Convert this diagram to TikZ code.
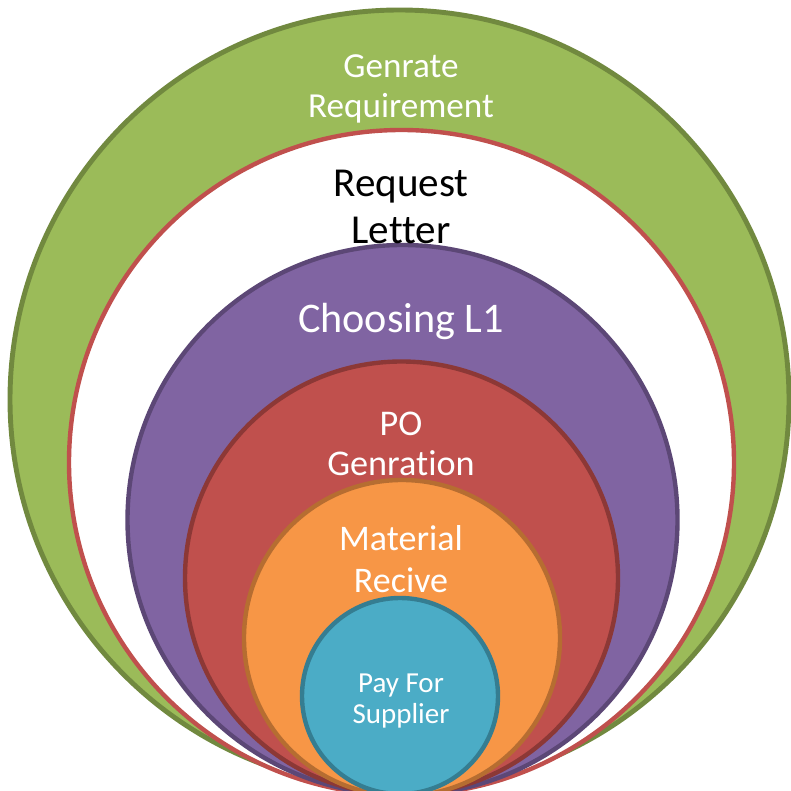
\documentclass[tikz,border=0pt]{standalone}
\usepackage{fontspec}
\setmainfont{Carlito}[Ligatures={CommonOff,ContextualOff,RequiredOff}]
\usepackage{tikz}

\definecolor{verde}{HTML}{9BBB59}
\definecolor{verdeEsc}{HTML}{71893F}
\definecolor{vermelho}{HTML}{C0504D}
\definecolor{vermelhoEsc}{HTML}{8C3836}
\definecolor{roxo}{HTML}{8064A2}
\definecolor{roxoEsc}{HTML}{5C4776}
\definecolor{laranja}{HTML}{F79646}
\definecolor{laranjaEsc}{HTML}{B66D31}
\definecolor{azul}{HTML}{4BACC6}
\definecolor{azulEsc}{HTML}{357D91}

\begin{document}
\begin{tikzpicture}[x=0.02cm, y=0.02cm,
    anel/.style={line width=2.5pt},
    rotulo/.style={align=center, text=white, inner sep=0pt}]
        \useasboundingbox (0,0) rectangle (791,791);
        \clip (0,0) rectangle (791,791);

        % Circulos
        \draw[anel, line width=2.8pt, draw=verdeEsc, fill=verde] (399.5,391.5) circle (389.5);
        \draw[anel, draw=vermelho, fill=white] (401.5,328.5) circle (332.5);
        \draw[anel, draw=roxoEsc, fill=roxo] (402.5,271) circle (275);
        \draw[anel, draw=vermelhoEsc, fill=vermelho] (401.5,213) circle (216.5);
        \draw[anel, draw=laranjaEsc, fill=laranja] (402,153) circle (158);
        \draw[anel, draw=azulEsc, fill=azul] (400,95) circle (98);

        % Textos
        \node[rotulo, font=\fontsize{20}{22.7}\selectfont] (req) at (401,702) {Genrate\\Requirement};
        \node[rotulo, text=black, font=\fontsize{23.4}{26.7}\selectfont] (carta) at (401,584) {Request\\Let{}ter};
        \node[rotulo, font=\fontsize{24}{27}\selectfont] (escolha) at (401,470) {Choosing L1};
        \node[rotulo, font=\fontsize{20.6}{22.7}\selectfont] (po) at (401,347) {PO\\Genrat{}ion};
        \node[rotulo, font=\fontsize{20.5}{23.8}\selectfont] (material) at (401,232) {Material\\Recive};
        \node[rotulo, font=\fontsize{16.5}{18.1}\selectfont] (pagar) at (401,90) {Pay For\\Supplier};
\end{tikzpicture}
\end{document}
